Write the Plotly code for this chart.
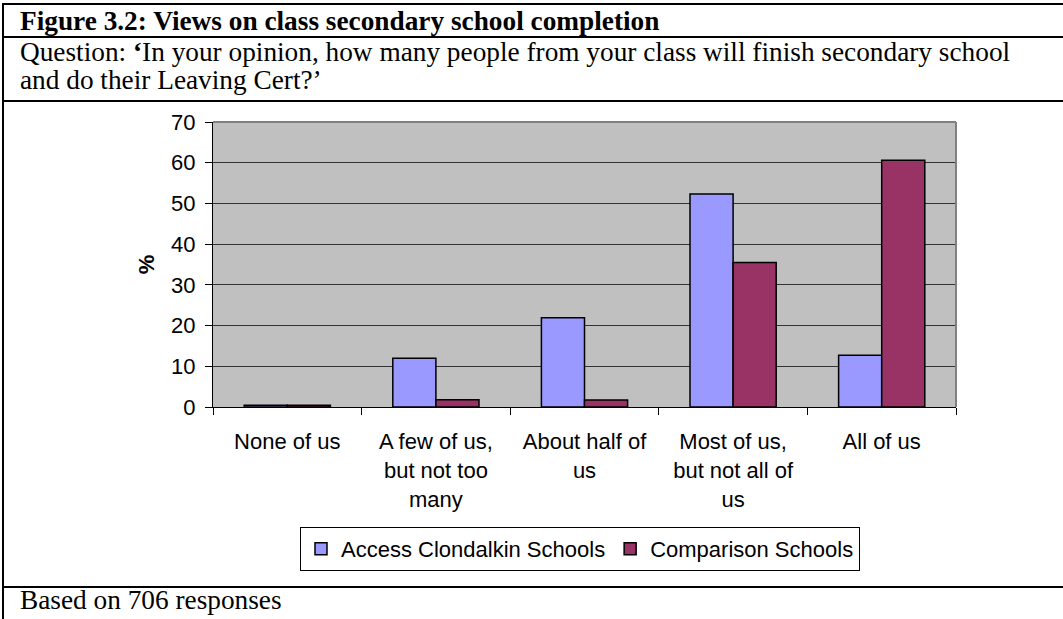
import plotly.graph_objects as go

# ---- data -------------------------------------------------------------
categories = [
    "None of us",
    "A few of us,<br>but not too<br>many",
    "About half of<br>us",
    "Most of us,<br>but not all of<br>us",
    "All of us",
]
access_clondalkin = [0.4, 12.0, 21.9, 52.3, 12.7]
comparison_schools = [0.4, 1.8, 1.7, 35.5, 60.6]
y_ticks = [0, 10, 20, 30, 40, 50, 60, 70]

# ---- page geometry (pixels) -------------------------------------------
W, H = 1063, 619
PL, PR, PT, PB = 213, 956, 122, 407  # plot area box


def fx(x):
    return (x - PL) / (PR - PL)


def fy(y):
    return (PB - y) / (PB - PT)


SERIF = "Liberation Serif, Times New Roman, serif"
SANS = "Liberation Sans, Arial, sans-serif"
TXT = 22
SERIF_SIZE = 27.3

fig = go.Figure()
fig.add_trace(go.Bar(
    x=categories, y=access_clondalkin, name="Access Clondalkin Schools",
    marker=dict(color="#9999FF", line=dict(color="black", width=1.5)),
))
fig.add_trace(go.Bar(
    x=categories, y=comparison_schools, name="Comparison Schools",
    marker=dict(color="#993366", line=dict(color="black", width=1.5)),
))

shapes = []
# table rules around the figure
for y in [4, 37, 101, 587]:
    shapes.append(dict(type="line", xref="paper", yref="paper",
                       x0=fx(2), x1=fx(W + 5), y0=fy(y), y1=fy(y),
                       line=dict(color="black", width=2)))
shapes.append(dict(type="line", xref="paper", yref="paper",
                   x0=fx(3), x1=fx(3), y0=fy(3), y1=fy(H + 5),
                   line=dict(color="black", width=2)))
# plot-area frame (right and top edges in grey)
shapes.append(dict(type="line", xref="paper", yref="paper",
                   x0=1, x1=1, y0=0, y1=1, line=dict(color="#808080", width=2)))
shapes.append(dict(type="line", xref="paper", yref="paper",
                   x0=0, x1=1, y0=1, y1=1, line=dict(color="#808080", width=2)))

annotations = [
    dict(text="<b>Figure 3.2: Views on class secondary school completion</b>",
         x=fx(18), y=fy(21), xanchor="left", yanchor="middle"),
    dict(text="Question: <b>‘</b>In your opinion, how many people from your class will finish secondary school",
         x=fx(18), y=fy(52), xanchor="left", yanchor="middle"),
    dict(text="and do their Leaving Cert?’",
         x=fx(18), y=fy(80), xanchor="left", yanchor="middle"),
    dict(text="Based on 706 responses",
         x=fx(18), y=fy(600), xanchor="left", yanchor="middle"),
]
for a in annotations:
    a.update(xref="paper", yref="paper", showarrow=False,
             font=dict(family=SERIF, size=SERIF_SIZE, color="black"))

fig.update_layout(
    width=W, height=H, autosize=False,
    margin=dict(l=PL, r=W - PR, t=PT, b=H - PB, pad=0),
    paper_bgcolor="white", plot_bgcolor="#C0C0C0",
    barmode="group", bargap=0.42, bargroupgap=0,
    font=dict(family=SANS, size=TXT, color="black"),
    showlegend=True,
    legend=dict(
        orientation="h", x=fx(580), xanchor="center", y=fy(527), yanchor="top",
        bordercolor="black", borderwidth=1, bgcolor="white",
        font=dict(family=SANS, size=TXT, color="black"),
        itemwidth=30, traceorder="normal",
    ),
    shapes=shapes,
    annotations=annotations,
)
fig.update_xaxes(
    type="category", showline=True, linecolor="black", linewidth=1,
    ticks="outside", tickson="boundaries", ticklen=7, tickcolor="black",
    showgrid=False, ticklabelstandoff=15,
    tickfont=dict(family=SANS, size=TXT, color="black"),
)
fig.update_yaxes(
    range=[0, 70], tickvals=y_ticks, showline=True, linecolor="black", linewidth=1,
    ticks="outside", ticklen=7, tickcolor="black",
    showgrid=True, gridcolor="#333333", gridwidth=1, zeroline=False,
    ticklabelstandoff=5,
    tickfont=dict(family=SANS, size=TXT, color="black"),
    title=dict(text="<b>%</b>", font=dict(family=SANS, size=TXT, color="black"), standoff=10),
)

fig.write_html("out.html")
